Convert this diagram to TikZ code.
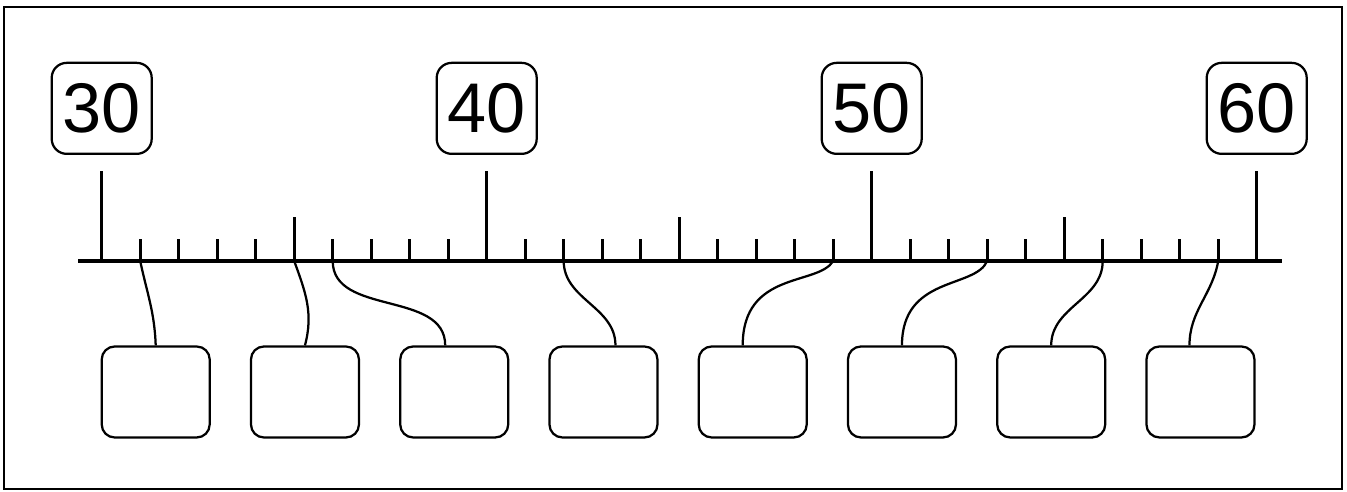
\documentclass[tikz,border=0pt]{standalone}
\usepackage{fontspec}
\setmainfont{Liberation Sans}
\usetikzlibrary{calc,positioning}

\tikzset{
  numbox/.style={draw, rounded corners=3mm, line width=0.45mm, minimum width=20mm,
    minimum height=18.2mm, inner sep=0pt, font=\fontsize{40}{40}\selectfont},
  blankbox/.style={draw, rounded corners=2.6mm, line width=0.45mm, minimum width=21.6mm,
    minimum height=18.2mm, inner sep=0pt},
  link/.style={line width=0.45mm}
}

\begin{document}
\begin{tikzpicture}[x=0.2mm, y=0.2mm]
            \useasboundingbox (0, 0) rectangle (1347, 492);
            %\draw[lightgray] (0, 0) grid (1347, 492);
            \draw[line width=0.55mm] (4, 3) rectangle (1342, 485);
            \draw[line width=0.7mm] (78, 231) -- (1282, 231);
            \foreach \i in {0,...,30} {
                \coordinate (t\i) at (101.7 + 38.5*\i, 231);
                \draw[line width=0.65mm] (t\i) -- ++(0, 22);
            }
            \foreach \i in {5,15,25} \draw[line width=0.65mm] (t\i) -- ++(0, 44);
            \foreach \i in {0,10,20,30} \draw[line width=0.55mm] (t\i) -- ++(0, 90);
            \node[numbox, above=21.2mm of t0] (l30) {30};
            \node[numbox, above=21.2mm of t10] (l40) {40};
            \node[numbox, above=21.2mm of t20] (l50) {50};
            \node[numbox, above=21.2mm of t30] (l60) {60};
            \node[blankbox] (b1) at (155.7, 100) {};
            \node[blankbox, right=7.8mm of b1] (b2) {};
            \node[blankbox, right=7.8mm of b2] (b3) {};
            \node[blankbox, right=7.8mm of b3] (b4) {};
            \node[blankbox, right=7.8mm of b4] (b5) {};
            \node[blankbox, right=7.8mm of b5] (b6) {};
            \node[blankbox, right=7.8mm of b6] (b7) {};
            \node[blankbox, right=7.8mm of b7] (b8) {};
            \draw[link] (t1) to[out=-78, in=92] (b1.north);
            \draw[link] (t5) to[out=-70, in=75] (b2.north);
            \draw[link] (t6) to[out=-90, in=90] ($(b3.north) + (-9, 0)$);
            \draw[link] (t12) to[out=-90, in=90] ($(b4.north) + (12, 0)$);
            \draw[link] (t19) .. controls +(-15, -25) and +(0, 75) .. ($(b5.north) + (-10, 0)$);
            \draw[link] (t23) .. controls +(-12, -28) and +(0, 70) .. (b6.north);
            \draw[link] (t26) to[out=-90, in=90] (b7.north);
            \draw[link] (t29) to[out=-100, in=90] ($(b8.north) + (-11, 0)$);
\end{tikzpicture}
\end{document}
